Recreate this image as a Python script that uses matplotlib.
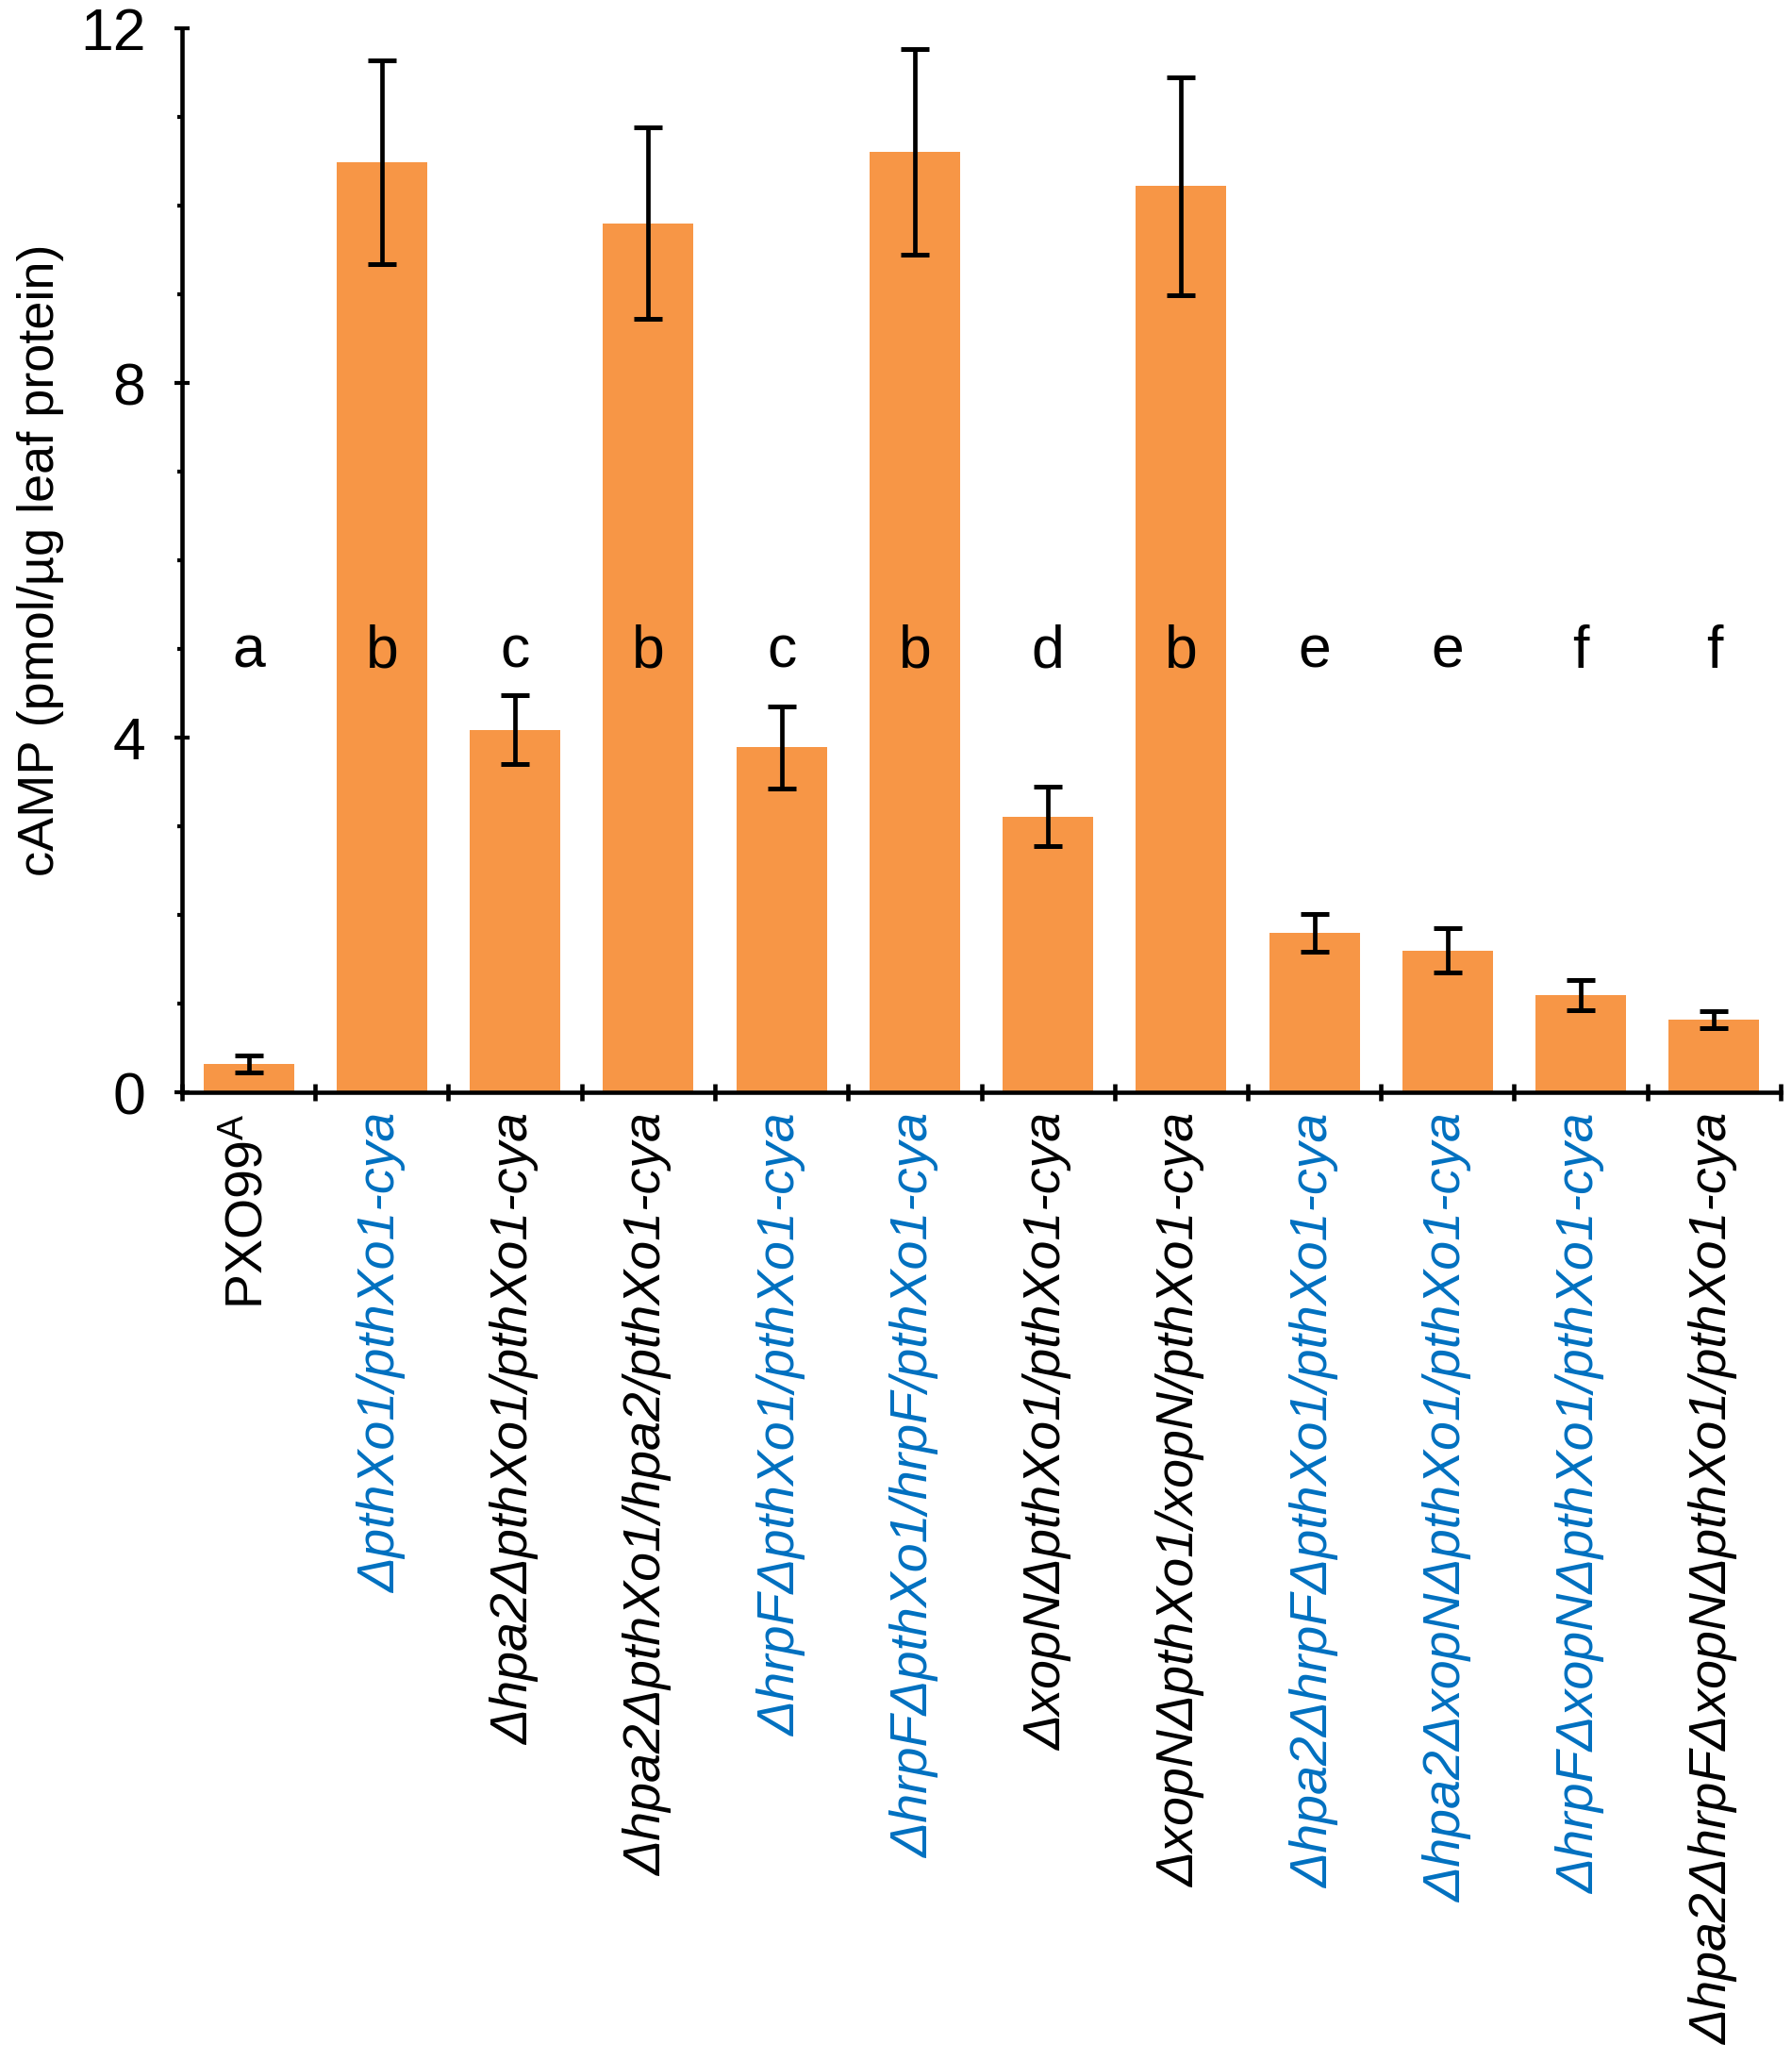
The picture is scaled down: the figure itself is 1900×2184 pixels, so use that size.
import matplotlib
matplotlib.use("Agg")
import matplotlib.pyplot as plt
from matplotlib.ticker import FixedLocator, NullFormatter
import numpy as np

plt.rcParams['font.family'] = ['Liberation Sans', 'DejaVu Sans']
plt.rcParams['mathtext.default'] = 'regular'

categories = [
    r'PXO99$^{A}$',
    'ΔpthXo1/pthXo1-cya',
    'Δhpa2ΔpthXo1/pthXo1-cya',
    'Δhpa2ΔpthXo1/hpa2/pthXo1-cya',
    'ΔhrpFΔpthXo1/pthXo1-cya',
    'ΔhrpFΔpthXo1/hrpF/pthXo1-cya',
    'ΔxopNΔpthXo1/pthXo1-cya',
    'ΔxopNΔpthXo1/xopN/pthXo1-cya',
    'Δhpa2ΔhrpFΔpthXo1/pthXo1-cya',
    'Δhpa2ΔxopNΔpthXo1/pthXo1-cya',
    'ΔhrpFΔxopNΔpthXo1/pthXo1-cya',
    'Δhpa2ΔhrpFΔxopNΔpthXo1/pthXo1-cya',
]
means = [0.32, 10.49, 4.09, 9.80, 3.89, 10.61, 3.11, 10.22, 1.80, 1.60, 1.10, 0.82]
errors = [0.095, 1.15, 0.39, 1.08, 0.46, 1.16, 0.335, 1.23, 0.21, 0.25, 0.17, 0.10]
letters = ['a', 'b', 'c', 'b', 'c', 'b', 'd', 'b', 'e', 'e', 'f', 'f']
label_blue = [False, True, False, False, True, True, False, False, True, True, True, False]
label_italic = [False] + [True] * 11
yticks_major = [0, 4, 8, 12]

BAR = '#F79646'
BLUE = '#0070C0'

fig = plt.figure(figsize=(19, 21.84), dpi=100)
ax = fig.add_axes([193/1900, 1 - 1158/2184, 1695/1900, 1128/2184])

x = np.arange(len(categories))
ax.bar(x, means, width=0.68, color=BAR, edgecolor='none', zorder=2)
ax.errorbar(x, means, yerr=errors, fmt='none', ecolor='black', elinewidth=3.4,
            capsize=11, capthick=3.6, zorder=3)

for xi, lt in zip(x, letters):
    ax.text(xi, 4.79, lt, ha='center', va='baseline', fontsize=45, color='black')

ax.set_xlim(-0.5, len(categories) - 0.5)
ax.set_ylim(0, 12)

for s in ['top', 'right']:
    ax.spines[s].set_visible(False)
for s in ['left', 'bottom']:
    ax.spines[s].set_linewidth(3.3)

# y axis ticks
ax.yaxis.set_major_locator(FixedLocator(yticks_major))
ax.yaxis.set_minor_locator(FixedLocator([v for v in range(0, 13) if v not in yticks_major]))
ax.tick_params(axis='y', which='major', direction='inout', length=11.5, width=3,
               labelsize=45, pad=22)
ax.tick_params(axis='y', which='minor', direction='out', length=3.5, width=3)

# x axis: boundary ticks (major), labels at centers (minor)
ax.xaxis.set_major_locator(FixedLocator(np.arange(-0.5, len(categories), 1.0)))
ax.xaxis.set_major_formatter(NullFormatter())
ax.xaxis.set_minor_locator(FixedLocator(x))
ax.set_xticks(x, categories, minor=True, rotation=90, fontsize=40)
ax.tick_params(axis='x', which='major', direction='inout', length=13, width=3.3)
ax.tick_params(axis='x', which='minor', length=0, pad=16)

for lab, blue, it in zip(ax.get_xticklabels(minor=True), label_blue, label_italic):
    lab.set_color(BLUE if blue else 'black')
    lab.set_fontstyle('italic' if it else 'normal')
    lab.set_va('top')
    lab.set_ha('center')

ax.set_ylabel('cAMP (pmol/µg leaf protein)', fontsize=39)
ax.yaxis.set_label_coords(-0.074, 0.5)

fig.savefig('out.png', dpi=100)
